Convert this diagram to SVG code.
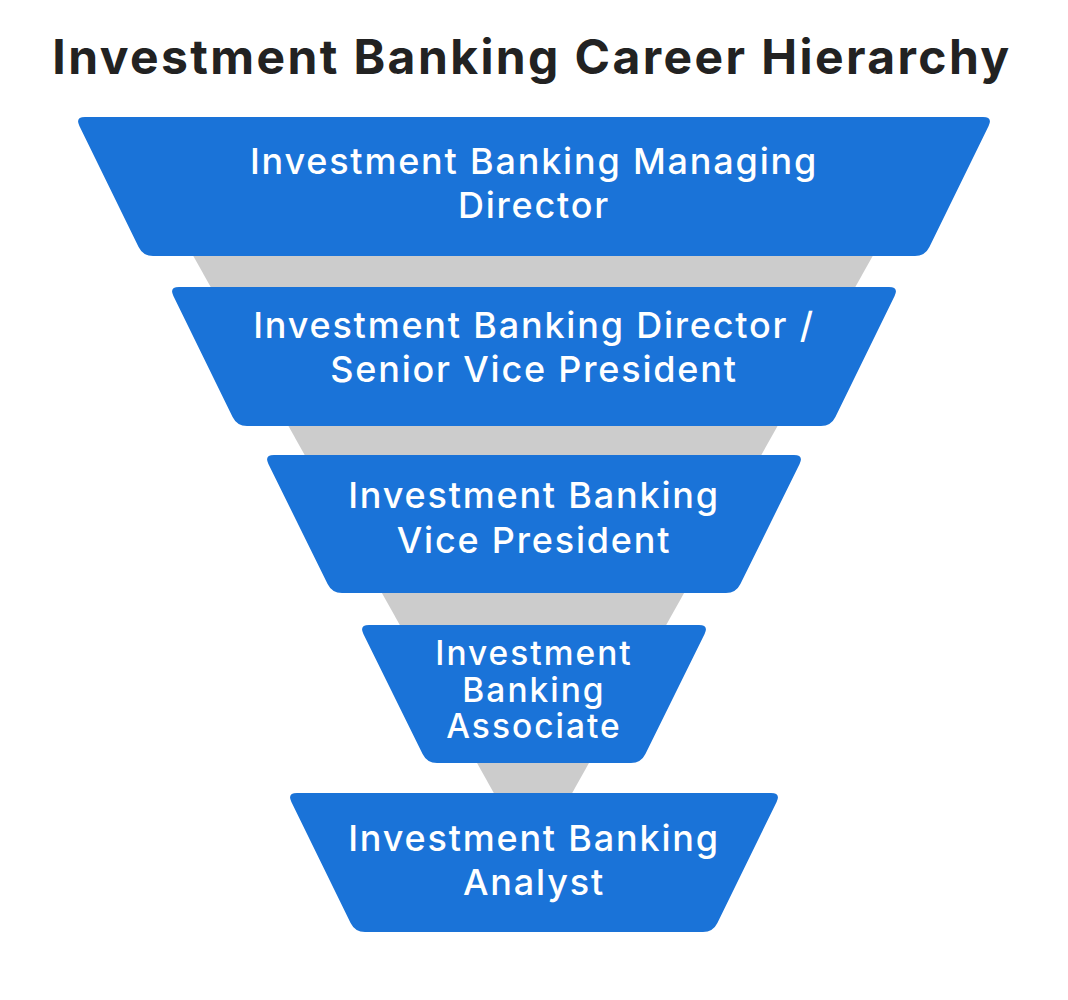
<svg xmlns="http://www.w3.org/2000/svg" width="1068" height="1000" viewBox="0 0 1068 1000">
<style>
.bg{fill:#ffffff}
.funnel{fill:#cccccc}
.box{fill:#1a73d8}
.title{font-family:Inter,"Liberation Sans",sans-serif;font-weight:700;font-size:48px;fill:#222222;text-anchor:middle;letter-spacing:2.4px}
.lbl{font-family:Inter,"Liberation Sans",sans-serif;font-weight:500;font-size:36px;fill:#ffffff;text-anchor:middle;letter-spacing:1.8px}
.sm{font-size:33.5px;letter-spacing:2px}
</style>
<rect class="bg" x="0" y="0" width="1068" height="1000"/>
<text class="title" x="532" y="74">Investment Banking Career Hierarchy</text>
<g id="connectors">
<polygon class="funnel" points="162,200 904,200 533,863"/>
</g>
<g id="node-md">
<path class="box" d="M85,117 H983 Q993,117 988.6,126 L929.4,247 Q925,256 915,256 H153 Q143,256 138.6,247 L79.4,126 Q75,117 85,117 Z"/>
<text class="lbl" x="534" y="174">Investment Banking Managing</text>
<text class="lbl" x="534" y="217.5">Director</text>
</g>
<g id="node-director">
<path class="box" d="M179,287 H889 Q899,287 894.6,296 L835.4,417 Q831,426 821,426 H247 Q237,426 232.6,417 L173.4,296 Q169,287 179,287 Z"/>
<text class="lbl" x="534" y="338">Investment Banking Director /</text>
<text class="lbl" x="534" y="381.5">Senior Vice President</text>
</g>
<g id="node-vp">
<path class="box" d="M274,455 H794 Q804,455 799.6,464 L740.4,584 Q736,593 726,593 H342 Q332,593 327.6,584 L268.4,464 Q264,455 274,455 Z"/>
<text class="lbl" x="534" y="508">Investment Banking</text>
<text class="lbl" x="534" y="552.5">Vice President</text>
</g>
<g id="node-associate">
<path class="box" d="M369,625 H699 Q709,625 704.6,634 L645.4,754 Q641,763 631,763 H437 Q427,763 422.6,754 L363.4,634 Q359,625 369,625 Z"/>
<text class="lbl sm" x="534" y="665">Investment</text>
<text class="lbl sm" x="534" y="701.5">Banking</text>
<text class="lbl sm" x="534" y="738">Associate</text>
</g>
<g id="node-analyst">
<path class="box" d="M297,793 H771 Q781,793 776.6,802 L717.4,923 Q713,932 703,932 H365 Q355,932 350.6,923 L291.4,802 Q287,793 297,793 Z"/>
<text class="lbl" x="534" y="851">Investment Banking</text>
<text class="lbl" x="534" y="895">Analyst</text>
</g>
</svg>
